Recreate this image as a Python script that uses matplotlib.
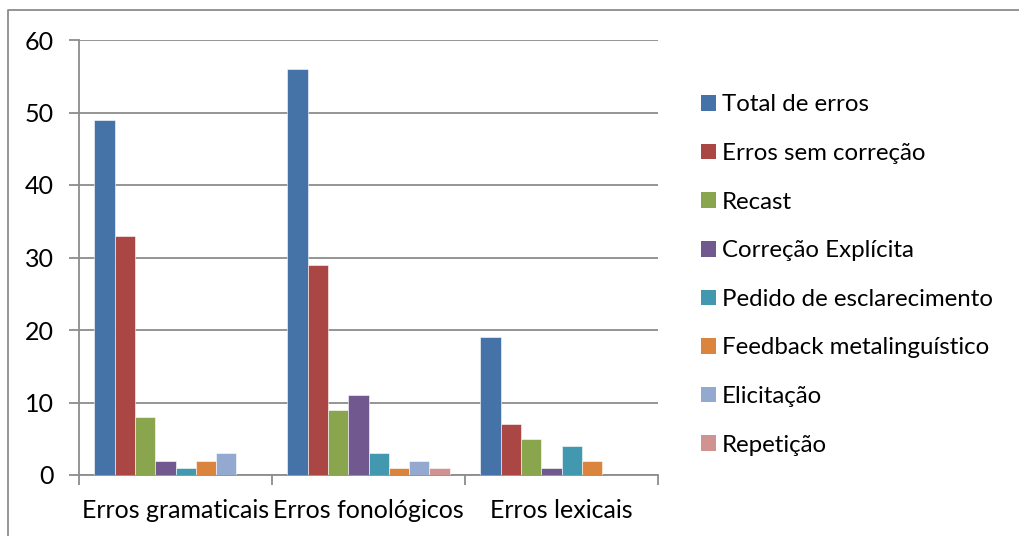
import matplotlib.pyplot as plt
import numpy as np
from matplotlib.patches import Patch
from matplotlib.lines import Line2D

plt.rcParams['font.family'] = ['Lato', 'DejaVu Sans']

categories = ['Erros gramaticais', 'Erros fonológicos', 'Erros lexicais']
series = ['Total de erros', 'Erros sem correção', 'Recast', 'Correção Explícita',
          'Pedido de esclarecimento', 'Feedback metalinguístico', 'Elicitação', 'Repetição']
total = [49, 56, 19]
sem_correcao = [33, 29, 7]
recast = [8, 9, 5]
explicita = [2, 11, 1]
esclarecimento = [1, 3, 4]
metalinguistico = [2, 1, 2]
elicitacao = [3, 2, 0]
repeticao = [0, 1, 0]
values = [total, sem_correcao, recast, explicita, esclarecimento,
          metalinguistico, elicitacao, repeticao]
colors = ['#4572A7', '#AA4643', '#89A54E', '#71588F',
          '#4198AF', '#DB843D', '#93A9CF', '#D19392']

W, H = 1019, 536
fig = plt.figure(figsize=(W / 100, H / 100), dpi=100)
ax = fig.add_axes([79 / W, 1 - 475 / H, (658 - 79) / W, (475 - 40) / H])

n = len(series)
bw = 1 / (n + 1.5)
x = np.arange(len(categories))
for i, (vals, c) in enumerate(zip(values, colors)):
    ax.bar(x - 0.5 + 0.75 * bw + i * bw, vals, width=bw, align='edge',
           color=c, edgecolor='white', linewidth=0.4, zorder=3)

ax.set_xlim(-0.5, len(categories) - 0.5)
ax.set_ylim(0, 60)
ax.set_yticks(range(0, 61, 10))
ax.yaxis.grid(True, color='#8c8c8c', linewidth=1.3, zorder=0)
ax.tick_params(axis='y', length=7, width=1.3, color='#8c8c8c', labelsize=18, pad=11)
ax.set_xticks(np.arange(-0.5, len(categories)), minor=False)
ax.set_xticklabels([])
ax.set_xticks(x, minor=True)
ax.set_xticklabels(categories, minor=True, fontsize=18)
ax.tick_params(axis='x', which='major', length=7, width=1.3, color='#8c8c8c')
ax.tick_params(axis='x', which='minor', length=0, pad=17)
for s in ['top', 'right']:
    ax.spines[s].set_visible(False)
for s in ['left', 'bottom']:
    ax.spines[s].set_color('#8c8c8c')
    ax.spines[s].set_linewidth(1.3)

handles = [Patch(facecolor=c, edgecolor='none') for c in colors]
fig.legend(handles, series, loc='center left', bbox_to_anchor=(691 / W, 1 - 275 / H),
           frameon=False, fontsize=17.3, handlelength=0.62, handleheight=0.62,
           handletextpad=0.25, labelspacing=1.15, borderaxespad=0)

# outer chart border (top and left edges)
fig.add_artist(Line2D([8 / W, 8 / W, 1], [0, 1 - 10 / H, 1 - 10 / H],
                      transform=fig.transFigure, color='#8c8c8c', linewidth=1.3))

fig.savefig('out.png', dpi=100)
